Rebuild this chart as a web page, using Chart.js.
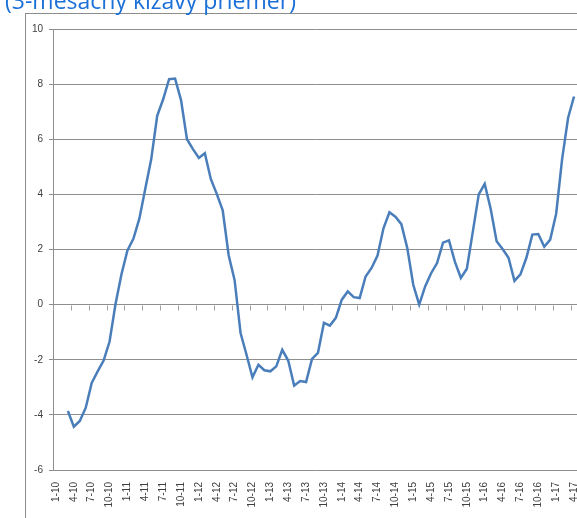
<!DOCTYPE html>
<html lang="sk">
<head>
<meta charset="utf-8">
<script src="https://cdn.jsdelivr.net/npm/chart.js@4.4.1/dist/chart.umd.min.js"></script>
<style>
  html, body { margin: 0; padding: 0; background: #fff; overflow: hidden; }
  #wrap { position: relative; width: 577px; height: 518px; overflow: hidden; }
  #frame { position: absolute; left: 25px; top: 13px; width: 640px; height: 640px;
           border: 1px solid #8c8c8c; box-sizing: border-box; }
  #title { position: absolute; left: 5px; top: -11px; font-family: 'Open Sans', sans-serif;
           font-size: 23px; line-height: 23px; color: #1a6fd8; white-space: nowrap; }
  canvas { position: absolute; left: 0; top: 0; }
</style>
</head>
<body>
<div id="wrap">
  <div id="frame"></div>
  <canvas id="c" width="577" height="518"></canvas>
  <div id="title">(3-mesačný kĺzavý priemer)</div>
</div>
<script>
// Months, m-yy
const months = [
  '1-10','2-10','3-10','4-10','5-10','6-10','7-10','8-10','9-10','10-10','11-10','12-10',
  '1-11','2-11','3-11','4-11','5-11','6-11','7-11','8-11','9-11','10-11','11-11','12-11',
  '1-12','2-12','3-12','4-12','5-12','6-12','7-12','8-12','9-12','10-12','11-12','12-12',
  '1-13','2-13','3-13','4-13','5-13','6-13','7-13','8-13','9-13','10-13','11-13','12-13',
  '1-14','2-14','3-14','4-14','5-14','6-14','7-14','8-14','9-14','10-14','11-14','12-14',
  '1-15','2-15','3-15','4-15','5-15','6-15','7-15','8-15','9-15','10-15','11-15','12-15',
  '1-16','2-16','3-16','4-16','5-16','6-16','7-16','8-16','9-16','10-16','11-16','12-16',
  '1-17','2-17','3-17','4-17'
];

// 3-month moving average (first two months have no value)
const movingAvg = [
  null, null, -3.86, -4.43, -4.22, -3.74, -2.84, -2.42, -2.03, -1.34, 0.02, 1.10,
  1.97, 2.39, 3.12, 4.20, 5.28, 6.85, 7.45, 8.18, 8.20, 7.42, 6.00, 5.64,
  5.32, 5.49, 4.56, 4.02, 3.42, 1.79, 0.89, -1.03, -1.82, -2.64, -2.18, -2.38,
  -2.42, -2.24, -1.64, -2.03, -2.94, -2.77, -2.81, -1.97, -1.75, -0.66, -0.76, -0.48,
  0.18, 0.48, 0.27, 0.24, 1.02, 1.33, 1.78, 2.77, 3.35, 3.19, 2.92, 2.05,
  0.72, 0.00, 0.66, 1.14, 1.51, 2.25, 2.33, 1.55, 0.97, 1.30, 2.64, 4.00,
  4.38, 3.48, 2.30, 2.02, 1.70, 0.86, 1.10, 1.70, 2.54, 2.56, 2.10, 2.36,
  3.30, 5.28, 6.77, 7.55
];

// Value axis
const yMin = -6, yMax = 10, yStep = 2;
// Every third month gets a label and a tick mark
const labelEvery = 3;

const gridColor = '#8e8e8e';
const textColor = '#404040';

// Small tick marks on the zero line at every third month boundary
const zeroLineTicks = {
  id: 'zeroLineTicks',
  beforeDatasetsDraw(chart) {
    const { ctx, scales: { x, y } } = chart;
    const y0 = Math.round(y.getPixelForValue(0)) + 0.5;
    ctx.save();
    ctx.strokeStyle = '#a0a0a0';
    ctx.lineWidth = 1;
    ctx.beginPath();
    for (let i = 0; i <= months.length; i += labelEvery) {
      const px = Math.round(x.getPixelForValue(i - 0.5)) + 0.5;
      ctx.moveTo(px, y0);
      ctx.lineTo(px, y0 + 5);
    }
    ctx.stroke();
    ctx.restore();
  }
};

new Chart(document.getElementById('c'), {
  type: 'line',
  data: {
    labels: months,
    datasets: [{
      data: movingAvg,
      borderColor: '#4a7ebb',
      borderWidth: 2.5,
      pointRadius: 0,
      tension: 0,
      fill: false
    }]
  },
  options: {
    responsive: false,
    animation: false,
    devicePixelRatio: 1,
    layout: { padding: { left: 0, right: 0, top: 29, bottom: 0 } },
    plugins: { legend: { display: false }, tooltip: { enabled: false } },
    scales: {
      x: {
        type: 'category',
        offset: true,
        grid: { display: false, drawTicks: false },
        border: { display: false },
        ticks: {
          autoSkip: false,
          minRotation: 90,
          maxRotation: 90,
          padding: 12,
          color: textColor,
          font: { family: "'Liberation Sans', Arial, sans-serif", size: 10 },
          callback: (v, i) => (i % labelEvery === 0 ? months[i] : '')
        },
        afterFit(scale) {
          scale.height = 48;
          scale.paddingLeft = 0;
          scale.paddingRight = 0;
        }
      },
      y: {
        min: yMin,
        max: yMax,
        ticks: {
          stepSize: yStep,
          padding: 6,
          color: textColor,
          font: { family: "'Liberation Sans', Arial, sans-serif", size: 10 }
        },
        grid: { color: gridColor, lineWidth: 1, tickLength: 4, drawTicks: true },
        border: { display: true, color: gridColor, width: 1 },
        afterFit(scale) { scale.width = 53; }
      }
    }
  },
  plugins: [zeroLineTicks]
});
</script>
</body>
</html>
